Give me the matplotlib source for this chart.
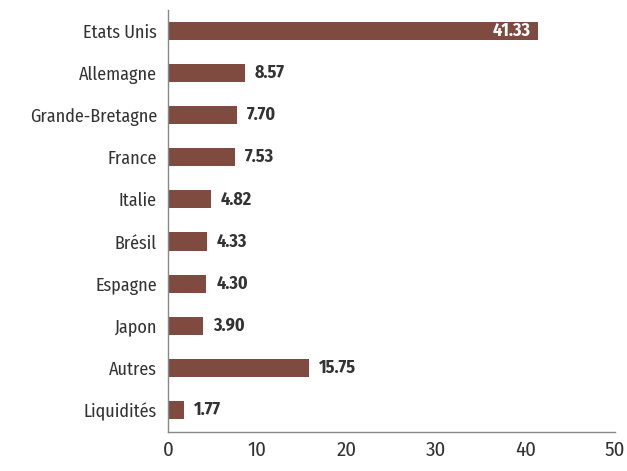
import matplotlib
matplotlib.use("Agg")
import matplotlib.pyplot as plt
from matplotlib import font_manager

categories = ["Etats Unis", "Allemagne", "Grande-Bretagne", "France", "Italie",
              "Brésil", "Espagne", "Japon", "Autres", "Liquidités"]
values = [41.33, 8.57, 7.70, 7.53, 4.82, 4.33, 4.30, 3.90, 15.75, 1.77]
xticks = [0, 10, 20, 30, 40, 50]

names = {f.name for f in font_manager.fontManager.ttflist}
prefs = ["Fira Sans Condensed", "Roboto Condensed", "Barlow Semi Condensed", "Open Sans Condensed"]
fam = next((p for p in prefs if p in names), "DejaVu Sans")
plt.rcParams["font.family"] = [fam, "DejaVu Sans"]
plt.rcParams["font.stretch"] = "condensed"

color = "#7F4A40"
fig = plt.figure(figsize=(6.27, 4.71), dpi=100)
ax = fig.add_axes([0.268, 0.083, 0.713, 0.896])
y = list(range(len(categories)))
ax.barh(y, values, height=0.43, color=color)
ax.set_ylim(len(categories) - 0.48, -0.5)
ax.set_xlim(0, 50)
ax.set_yticks(y)
ax.set_yticklabels(categories, fontsize=13, color="#333333", fontweight="normal")
ax.set_xticks(xticks)
ax.set_xticklabels([str(t) for t in xticks], fontsize=15, color="#333333", fontweight="normal")
ax.tick_params(axis="both", length=0, pad=8)
ax.tick_params(axis="x", pad=6)
for s in ["top", "right"]:
    ax.spines[s].set_visible(False)
for s in ["left", "bottom"]:
    ax.spines[s].set_color("#888888")
    ax.spines[s].set_linewidth(1.0)

for i, v in enumerate(values):
    if v > 30:
        ax.annotate(f"{v:.2f}", (v, i), xytext=(-5, 0), textcoords="offset points",
                    ha="right", va="center", color="white", fontweight="bold", fontsize=13)
    else:
        ax.annotate(f"{v:.2f}", (v, i), xytext=(7, 0), textcoords="offset points",
                    ha="left", va="center", color="#333333", fontweight="bold", fontsize=13)

fig.savefig("out.png", dpi=100)
